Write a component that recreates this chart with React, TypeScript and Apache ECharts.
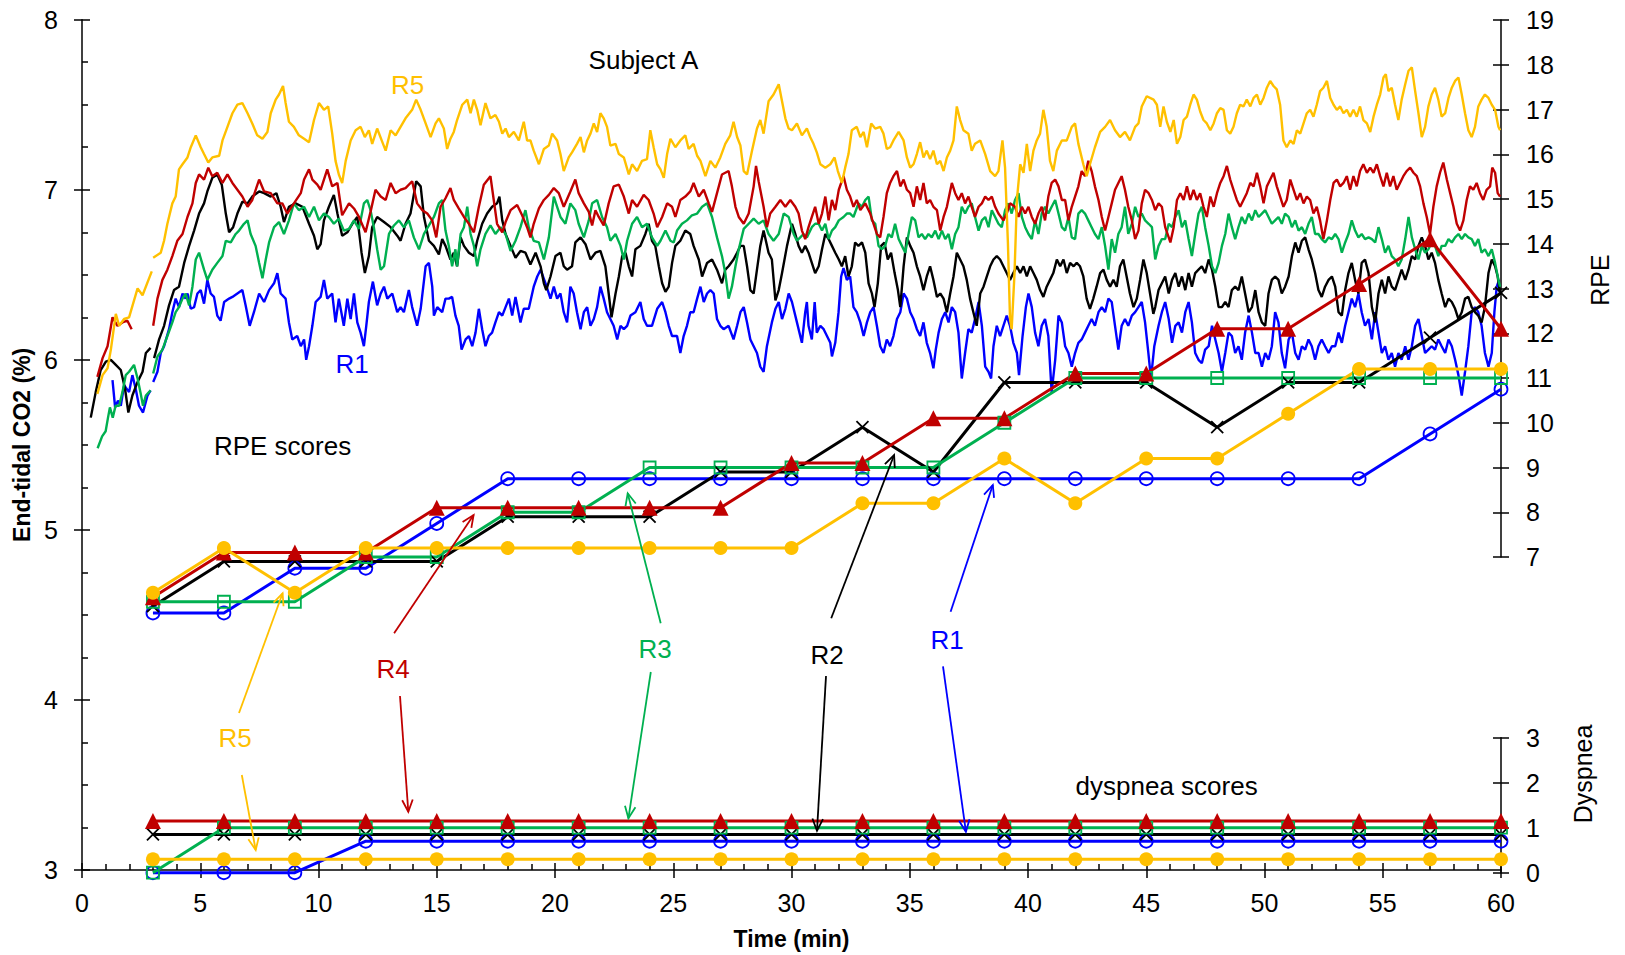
import React, { useEffect, useRef } from 'react';
import * as echarts from 'echarts';

const FONT = "'Liberation Sans', Arial, Helvetica, sans-serif";
const C_R1 = '#0000FF';
const C_R2 = '#000000';
const C_R3 = '#00B050';
const C_R4 = '#C00000';
const C_R5 = '#FFC000';

// ---- RPE scores (every 3 min) ----
const RPE_TIMES = [3, 6, 9, 12, 15, 18, 21, 24, 27, 30, 33, 36, 39, 42, 45, 48, 51, 54, 57, 60];
const RPE_R1 = [5.75, 5.75, 6.75, 6.75, 7.75, 8.75, 8.75, 8.75, 8.75, 8.75, 8.75, 8.75, 8.75, 8.75, 8.75, 8.75, 8.75, 8.75, 9.75, 10.75];
const RPE_R2 = [5.9, 6.9, 6.9, 6.9, 6.9, 7.9, 7.9, 7.9, 8.9, 8.9, 9.9, 8.9, 10.9, 10.9, 10.9, 9.9, 10.9, 10.9, 11.9, 12.9];
const RPE_R3 = [6, 6, 6, 7, 7, 8, 8, 9, 9, 9, 9, 9, 10, 11, 11, 11, 11, 11, 11, 11];
const RPE_R4 = [6.1, 7.1, 7.1, 7.1, 8.1, 8.1, 8.1, 8.1, 8.1, 9.1, 9.1, 10.1, 10.1, 11.1, 11.1, 12.1, 12.1, 13.1, 14.1, 12.1];
const RPE_R5 = [6.2, 7.2, 6.2, 7.2, 7.2, 7.2, 7.2, 7.2, 7.2, 7.2, 8.2, 8.2, 9.2, 8.2, 9.2, 9.2, 10.2, 11.2, 11.2, 11.2];

// ---- Dyspnea scores (every 3 min) ----
const DYS_R1 = [0, 0, 0, 0.7, 0.7, 0.7, 0.7, 0.7, 0.7, 0.7, 0.7, 0.7, 0.7, 0.7, 0.7, 0.7, 0.7, 0.7, 0.7, 0.7];
const DYS_R2 = [0.85, 0.85, 0.85, 0.85, 0.85, 0.85, 0.85, 0.85, 0.85, 0.85, 0.85, 0.85, 0.85, 0.85, 0.85, 0.85, 0.85, 0.85, 0.85, 0.85];
const DYS_R3 = [0, 1, 1, 1, 1, 1, 1, 1, 1, 1, 1, 1, 1, 1, 1, 1, 1, 1, 1, 1];
const DYS_R4 = [1.15, 1.15, 1.15, 1.15, 1.15, 1.15, 1.15, 1.15, 1.15, 1.15, 1.15, 1.15, 1.15, 1.15, 1.15, 1.15, 1.15, 1.15, 1.15, 1.15];
const DYS_R5 = [0.3, 0.3, 0.3, 0.3, 0.3, 0.3, 0.3, 0.3, 0.3, 0.3, 0.3, 0.3, 0.3, 0.3, 0.3, 0.3, 0.3, 0.3, 0.3, 0.3];

// ---- End-tidal CO2 traces: flat [time, value, ...]; NaN,NaN = data gap ----
const ETCO2_R1 = [
  1.29,5.88, 1.4,5.72, 1.52,5.76, 1.64,5.73, 1.78,5.85, 1.99,5.81, 2.13,5.91, 2.27,5.83, 2.41,5.73, 2.58,5.69, 2.77,5.79, 2.9,5.82,
  NaN,NaN,
  3.01,5.87, 3.19,5.93, 3.33,6.04, 3.47,6.08, 3.68,6.18, 3.82,6.28, 3.96,6.36, 4.1,6.31, 4.25,6.39, 4.38,6.36, 4.46,6.39, 4.6,6.30,
  4.74,6.31, 4.88,6.39, 5.02,6.41, 5.16,6.33, 5.3,6.47, 5.44,6.39, 5.58,6.37, 5.72,6.26, 5.86,6.23, 6.01,6.34, 6.22,6.36, 6.36,6.37,
  6.57,6.39, 6.78,6.41, 6.92,6.32, 7.09,6.20, 7.27,6.28, 7.49,6.39, 7.7,6.34, 7.91,6.41, 8.12,6.45, 8.26,6.51, 8.4,6.39, 8.61,6.36,
  8.75,6.22, 8.89,6.12, 9.1,6.14, 9.25,6.08, 9.39,6.12, 9.48,6.0, 9.6,6.08, 9.74,6.20, 9.88,6.34, 10.09,6.37, 10.23,6.47, 10.37,6.36,
  10.58,6.39, 10.72,6.22, 10.86,6.36, 11.07,6.20, 11.22,6.36, 11.36,6.24, 11.5,6.39, 11.64,6.22, 11.78,6.16, 11.92,6.08, 12.02,6.20,
  12.13,6.34, 12.3,6.46, 12.48,6.32, 12.63,6.39, 12.77,6.43, 12.91,6.36, 13.12,6.39, 13.33,6.28, 13.47,6.31, 13.61,6.28, 13.82,6.41,
  13.96,6.31, 14.17,6.20, 14.32,6.30, 14.53,6.55, 14.67,6.57, 14.81,6.43, 14.88,6.26, 15.02,6.31, 15.23,6.28, 15.37,6.36, 15.51,6.36,
  15.65,6.37, 15.79,6.26, 15.93,6.20, 16.05,6.06, 16.22,6.12, 16.36,6.14, 16.5,6.08, 16.64,6.16, 16.78,6.30, 16.92,6.18, 17.06,6.08,
  17.2,6.14, 17.34,6.16, 17.48,6.22, 17.63,6.28, 17.77,6.26, 17.91,6.31, 18.05,6.36, 18.19,6.26, 18.33,6.37, 18.54,6.22, 18.68,6.30,
  18.89,6.30, 19.1,6.43, 19.25,6.49, 19.39,6.53, 19.6,6.45, 19.81,6.36, 19.95,6.43, 20.09,6.36, 20.23,6.39, 20.37,6.28, 20.51,6.22,
  20.65,6.43, 20.79,6.39, 20.93,6.28, 21.08,6.18, 21.22,6.28, 21.36,6.31, 21.5,6.20, 21.64,6.24, 21.78,6.31, 21.92,6.43, 22.06,6.36,
  22.2,6.28, 22.34,6.24, 22.48,6.20, 22.63,6.12, 22.77,6.20, 22.91,6.18, 23.05,6.20, 23.19,6.26, 23.4,6.28, 23.61,6.34, 23.75,6.24,
  23.89,6.20, 24.1,6.20, 24.32,6.30, 24.53,6.34, 24.67,6.28, 24.81,6.20, 24.95,6.14, 25.16,6.14, 25.3,6.04, 25.44,6.14, 25.58,6.20,
  25.72,6.28, 25.86,6.28, 26.01,6.36, 26.15,6.43, 26.29,6.34, 26.43,6.39, 26.57,6.41, 26.71,6.39, 26.85,6.24, 26.99,6.20, 27.13,6.18,
  27.34,6.20, 27.55,6.12, 27.7,6.20, 27.84,6.28, 27.98,6.31, 28.12,6.22, 28.26,6.12, 28.4,6.08, 28.54,6.04, 28.68,5.96, 28.82,5.93,
  28.96,6.08, 29.17,6.22, 29.32,6.30, 29.46,6.34, 29.6,6.24, 29.74,6.30, 29.88,6.39, 30.02,6.34, 30.23,6.22, 30.44,6.10, 30.58,6.28,
  30.65,6.34, 30.72,6.20, 30.86,6.12, 30.98,6.34, 31.07,6.16, 31.22,6.20, 31.36,6.18, 31.5,6.14, 31.64,6.10, 31.71,6.02, 31.85,6.10,
  31.99,6.28, 32.1,6.49, 32.2,6.54, 32.34,6.47, 32.48,6.49, 32.62,6.31, 32.76,6.28, 32.91,6.22, 33.05,6.14, 33.19,6.22, 33.33,6.28,
  33.47,6.31, 33.61,6.20, 33.75,6.08, 33.89,6.04, 34.03,6.12, 34.17,6.08, 34.31,6.14, 34.46,6.24, 34.6,6.28, 34.74,6.39, 34.88,6.36,
  35.02,6.28, 35.16,6.24, 35.3,6.18, 35.44,6.14, 35.58,6.22, 35.72,6.10, 35.86,6.04, 36.0,5.95, 36.1,6.06, 36.22,6.16, 36.36,6.24,
  36.5,6.28, 36.64,6.22, 36.78,6.31, 36.92,6.28, 37.06,6.16, 37.2,5.89, 37.34,6.04, 37.48,6.18, 37.62,6.16, 37.76,6.24, 37.91,6.34,
  38.05,6.20, 38.19,5.96, 38.33,5.93, 38.44,5.89, 38.54,6.08, 38.68,6.20, 38.82,6.14, 38.96,6.20, 39.1,6.26, 39.24,6.20, 39.38,6.10,
  39.53,6.04, 39.62,5.91, 39.77,6.14, 39.91,6.31, 40.02,6.39, 40.16,6.31, 40.3,6.16, 40.44,6.08, 40.58,6.20, 40.72,6.24, 40.86,6.14,
  41.0,5.81, 41.15,6.0, 41.29,6.26, 41.43,6.22, 41.57,6.08, 41.71,6.04, 41.85,5.96, 41.99,6.04, 42.13,6.10, 42.27,6.12, 42.41,6.16,
  42.55,6.20, 42.69,6.24, 42.83,6.20, 42.98,6.28, 43.12,6.31, 43.26,6.28, 43.4,6.36, 43.54,6.34, 43.68,6.20, 43.82,6.06, 43.96,6.20,
  44.1,6.24, 44.24,6.20, 44.39,6.26, 44.53,6.28, 44.67,6.31, 44.81,6.34, 44.95,6.22, 45.09,6.04, 45.2,5.89, 45.34,6.08, 45.52,6.20,
  45.66,6.28, 45.8,6.34, 45.95,6.24, 46.09,6.10, 46.23,6.20, 46.37,6.22, 46.51,6.16, 46.65,6.28, 46.79,6.34, 46.93,6.22, 47.07,6.04,
  47.21,6.0, 47.35,5.98, 47.49,6.06, 47.64,6.08, 47.78,6.20, 47.92,6.12, 48.06,6.04, 48.2,5.93, 48.34,6.04, 48.48,6.16, 48.62,6.14,
  48.76,6.04, 48.9,6.08, 49.04,6.0, 49.18,6.16, 49.33,6.26, 49.47,6.16, 49.61,6.04, 49.75,6.04, 49.89,5.96, 50.03,6.04, 50.17,6.0,
  50.31,6.08, 50.45,6.28, 50.59,6.22, 50.73,6.04, 50.87,5.95, 51.02,6.12, 51.16,6.16, 51.3,6.04, 51.44,6.0, 51.58,6.08, 51.72,6.06,
  51.86,6.12, 52.0,6.08, 52.14,6.0, 52.28,6.08, 52.42,6.12, 52.56,6.08, 52.71,6.04, 52.85,6.08, 52.99,6.08, 53.13,6.16, 53.27,6.10,
  53.41,6.20, 53.55,6.28, 53.69,6.36, 53.83,6.31, 53.97,6.39, 54.11,6.28, 54.25,6.20, 54.4,6.24, 54.54,6.12, 54.68,6.28, 54.82,6.16,
  54.96,6.04, 55.1,6.08, 55.24,6.0, 55.38,6.04, 55.52,5.96, 55.66,6.04, 55.8,6.0, 55.95,6.08, 56.09,6.0, 56.23,6.08, 56.37,6.20,
  56.51,6.24, 56.65,6.14, 56.79,6.04, 56.93,6.06, 57.07,6.08, 57.21,6.06, 57.35,6.12, 57.49,6.08, 57.64,6.04, 57.78,6.12, 57.92,6.08,
  58.06,6.0, 58.2,5.91, 58.34,5.79, 58.48,5.93, 58.62,6.08, 58.76,6.28, 58.9,6.31, 59.04,6.28, 59.18,6.20, 59.32,6.04, 59.47,5.96,
  59.61,6.04, 59.72,6.28, 59.82,6.43, 59.92,6.47,
];

const ETCO2_R2 = [
  0.37,5.66, 0.58,5.81, 0.79,5.94, 1.01,5.99, 1.22,6.0, 1.43,5.97, 1.64,5.94, 1.82,5.83, 1.96,5.69, 2.13,5.79, 2.35,5.87, 2.56,5.93,
  2.7,6.04, 2.9,6.07,
  NaN,NaN,
  3.05,6.01, 3.26,6.12, 3.47,6.20, 3.68,6.32, 3.89,6.41, 4.1,6.43, 4.32,6.57, 4.53,6.67, 4.74,6.76, 4.95,6.86, 5.16,6.92, 5.3,6.99,
  5.51,7.07, 5.72,7.09, 5.91,7.03, 6.08,6.86, 6.22,6.75, 6.39,6.78, 6.57,6.86, 6.78,6.93, 7.0,6.92, 7.2,6.96, 7.49,6.99, 7.7,6.98,
  7.98,6.96, 8.22,6.98, 8.4,6.90, 8.54,6.81, 8.75,6.90, 9.03,6.92, 9.32,6.90, 9.6,6.80, 9.81,6.73, 9.95,6.65, 10.09,6.68, 10.23,6.82,
  10.44,6.90, 10.65,6.97, 10.8,6.86, 11.0,6.73, 11.22,6.75, 11.43,6.80, 11.64,6.84, 11.82,6.63, 11.96,6.51, 12.13,6.61, 12.27,6.78,
  12.48,6.84, 12.77,6.81, 13.05,6.78, 13.33,6.73, 13.47,6.70, 13.68,6.80, 13.89,6.86, 14.13,7.05, 14.32,7.02, 14.46,6.84, 14.67,6.70,
  14.88,6.67, 15.09,6.62, 15.23,6.71, 15.37,6.67, 15.58,6.59, 15.72,6.63, 15.86,6.55, 16.01,6.72, 16.15,6.67, 16.36,6.63, 16.57,6.61,
  16.71,6.70, 16.92,6.80, 17.13,6.86, 17.34,6.90, 17.55,6.92, 17.65,6.96, 17.77,6.82, 17.91,6.74, 18.12,6.67, 18.33,6.60, 18.54,6.64,
  18.75,6.63, 18.96,6.56, 19.18,6.63, 19.39,6.55, 19.53,6.45, 19.63,6.41, 19.81,6.49, 20.02,6.61, 20.23,6.63, 20.37,6.55, 20.51,6.53,
  20.72,6.55, 20.86,6.69, 21.08,6.72, 21.29,6.68, 21.5,6.59, 21.71,6.63, 21.92,6.64, 22.13,6.55, 22.27,6.39, 22.39,6.25, 22.56,6.39,
  22.7,6.49, 22.84,6.61, 22.98,6.63, 23.12,6.55, 23.26,6.49, 23.4,6.65, 23.61,6.67, 23.82,6.74, 23.96,6.80, 24.1,6.70, 24.24,6.67,
  24.39,6.55, 24.53,6.45, 24.67,6.40, 24.81,6.43, 24.95,6.57, 25.09,6.67, 25.3,6.70, 25.51,6.76, 25.72,6.74, 25.86,6.67, 26.08,6.59,
  26.22,6.49, 26.43,6.57, 26.64,6.59, 26.85,6.53, 27.06,6.45, 27.2,6.53, 27.34,6.55, 27.55,6.59, 27.7,6.63, 27.84,6.67, 27.98,6.67,
  28.12,6.55, 28.26,6.41, 28.4,6.39, 28.54,6.53, 28.68,6.67, 28.82,6.76, 29.03,6.63, 29.17,6.59, 29.32,6.35, 29.46,6.41, 29.6,6.51,
  29.81,6.67, 30.02,6.80, 30.16,6.74, 30.3,6.67, 30.44,6.63, 30.58,6.67, 30.72,6.63, 30.86,6.57, 31.0,6.51, 31.15,6.55, 31.29,6.65,
  31.43,6.74, 31.57,6.71, 31.71,6.67, 31.85,6.63, 32.0,6.59, 32.13,6.55, 32.27,6.61, 32.41,6.49, 32.55,6.55, 32.69,6.69, 32.83,6.67,
  32.98,6.69, 33.12,6.63, 33.26,6.45, 33.4,6.39, 33.51,6.31, 33.65,6.45, 33.79,6.67, 33.93,6.69, 34.07,6.59, 34.21,6.63, 34.36,6.51,
  34.5,6.41, 34.6,6.31, 34.74,6.55, 34.88,6.72, 35.02,6.67, 35.16,6.63, 35.3,6.55, 35.44,6.49, 35.58,6.41, 35.72,6.49, 35.86,6.55,
  36.0,6.47, 36.15,6.37, 36.29,6.39, 36.43,6.36, 36.57,6.28, 36.71,6.39, 36.85,6.49, 36.99,6.63, 37.13,6.59, 37.27,6.55, 37.41,6.47,
  37.55,6.36, 37.69,6.28, 37.83,6.20, 37.98,6.39, 38.12,6.43, 38.26,6.49, 38.4,6.55, 38.54,6.59, 38.68,6.61, 38.82,6.59, 38.96,6.55,
  39.1,6.51, 39.24,6.47, 39.38,6.51, 39.53,6.55, 39.67,6.51, 39.81,6.55, 39.95,6.49, 40.09,6.55, 40.23,6.51, 40.37,6.47, 40.51,6.41,
  40.65,6.37, 40.79,6.43, 40.93,6.47, 41.07,6.51, 41.22,6.59, 41.36,6.55, 41.5,6.59, 41.64,6.51, 41.78,6.57, 41.93,6.55, 42.06,6.57,
  42.2,6.55, 42.34,6.49, 42.48,6.36, 42.62,6.30, 42.76,6.36, 42.9,6.43, 43.05,6.51, 43.19,6.53, 43.33,6.47, 43.47,6.43, 43.61,6.47,
  43.75,6.43, 43.89,6.55, 44.03,6.59, 44.17,6.49, 44.31,6.39, 44.46,6.31, 44.6,6.36, 44.74,6.47, 44.88,6.59, 45.02,6.51, 45.16,6.39,
  45.3,6.27, 45.38,6.31, 45.52,6.41, 45.66,6.45, 45.8,6.49, 45.95,6.39, 46.09,6.47, 46.23,6.51, 46.37,6.43, 46.51,6.49, 46.65,6.41,
  46.79,6.51, 46.93,6.43, 47.07,6.51, 47.21,6.53, 47.35,6.55, 47.49,6.51, 47.64,6.59, 47.78,6.53, 47.92,6.43, 48.06,6.31, 48.2,6.31,
  48.34,6.34, 48.48,6.31, 48.62,6.41, 48.76,6.43, 48.9,6.41, 49.04,6.49, 49.18,6.39, 49.33,6.28, 49.47,6.31, 49.61,6.41, 49.75,6.28,
  49.89,6.22, 50.03,6.20, 50.17,6.39, 50.31,6.47, 50.45,6.49, 50.59,6.47, 50.73,6.39, 50.87,6.43, 51.02,6.49, 51.16,6.61, 51.3,6.69,
  51.44,6.63, 51.58,6.70, 51.72,6.72, 51.86,6.65, 52.0,6.59, 52.14,6.51, 52.28,6.41, 52.42,6.37, 52.56,6.43, 52.71,6.47, 52.85,6.49,
  52.99,6.43, 53.13,6.28, 53.27,6.26, 53.41,6.41, 53.55,6.51, 53.69,6.57, 53.83,6.47, 53.97,6.39, 54.11,6.57, 54.25,6.59, 54.4,6.51,
  54.54,6.31, 54.68,6.22, 54.82,6.39, 54.96,6.47, 55.1,6.39, 55.24,6.49, 55.38,6.43, 55.52,6.41, 55.66,6.47, 55.8,6.53, 55.95,6.47,
  56.09,6.53, 56.23,6.61, 56.37,6.59, 56.51,6.67, 56.65,6.72, 56.79,6.67, 56.93,6.59, 57.07,6.63, 57.21,6.57, 57.35,6.47, 57.49,6.39,
  57.64,6.31, 57.78,6.36, 57.92,6.34, 58.06,6.30, 58.2,6.24, 58.34,6.28, 58.48,6.36, 58.62,6.37, 58.76,6.31, 58.9,6.28, 59.04,6.26,
  59.18,6.22, 59.32,6.31, 59.47,6.51, 59.61,6.59, 59.75,6.55, 59.86,6.49, 59.96,6.39,
];

const ETCO2_R3 = [
  0.66,5.48, 0.85,5.55, 1.0,5.58, 1.1,5.66, 1.18,5.72, 1.3,5.66, 1.42,5.73, 1.57,5.73, 1.71,5.81, 1.85,5.91, 1.99,5.93, 2.2,5.97,
  2.35,5.89, 2.47,5.81, 2.58,5.73, 2.7,5.79, 2.9,5.82,
  NaN,NaN,
  3.01,5.92, 3.19,6.02, 3.4,6.06, 3.61,6.14, 3.82,6.22, 3.96,6.28, 4.1,6.31, 4.25,6.36, 4.38,6.39, 4.53,6.32, 4.67,6.43, 4.81,6.59,
  4.95,6.63, 5.16,6.53, 5.3,6.47, 5.51,6.53, 5.72,6.57, 5.94,6.61, 6.08,6.70, 6.29,6.69, 6.5,6.74, 6.64,6.76, 6.85,6.80, 7.0,6.82,
  7.13,6.74, 7.34,6.67, 7.49,6.57, 7.63,6.48, 7.77,6.59, 7.91,6.69, 8.12,6.78, 8.33,6.81, 8.54,6.74, 8.75,6.82, 8.96,6.92, 9.17,6.88,
  9.39,6.90, 9.6,6.84, 9.81,6.90, 10.02,6.82, 10.23,6.86, 10.44,6.84, 10.65,6.80, 10.86,6.83, 11.07,6.76, 11.29,6.77, 11.5,6.82,
  11.71,6.77, 11.92,6.92, 12.06,6.94, 12.2,6.88, 12.34,6.78, 12.48,6.65, 12.63,6.53, 12.77,6.55, 12.98,6.74, 13.19,6.79, 13.4,6.82,
  13.61,6.78, 13.82,6.82, 14.03,6.72, 14.25,6.65, 14.46,6.74, 14.67,6.79, 14.88,6.84, 15.09,6.92, 15.23,6.94, 15.37,6.76, 15.51,6.67,
  15.65,6.55, 15.79,6.65, 15.86,6.55, 16.01,6.74, 16.15,6.78, 16.29,6.90, 16.43,6.74, 16.57,6.67, 16.71,6.55, 16.85,6.65, 17.06,6.74,
  17.27,6.79, 17.48,6.74, 17.7,6.78, 17.91,6.74, 18.12,6.64, 18.33,6.70, 18.54,6.78, 18.75,6.88, 18.89,6.78, 19.1,6.70, 19.32,6.69,
  19.53,6.59, 19.74,6.72, 19.95,6.96, 20.09,6.90, 20.23,6.84, 20.44,6.80, 20.65,6.92, 20.86,6.88, 21.0,6.80, 21.22,6.72, 21.43,6.82,
  21.57,6.92, 21.78,6.94, 21.99,6.84, 22.2,6.78, 22.34,6.70, 22.56,6.74, 22.77,6.67, 22.91,6.59, 23.05,6.70, 23.26,6.80, 23.47,6.84,
  23.68,6.78, 23.89,6.80, 24.1,6.72, 24.32,6.67, 24.46,6.70, 24.67,6.76, 24.88,6.70, 25.02,6.69, 25.16,6.76, 25.37,6.80, 25.58,6.82,
  25.79,6.85, 26.01,6.86, 26.22,6.90, 26.43,6.92, 26.64,6.84, 26.85,6.72, 27.06,6.61, 27.2,6.51, 27.34,6.36, 27.48,6.43, 27.63,6.55,
  27.77,6.65, 27.98,6.77, 28.19,6.80, 28.4,6.83, 28.61,6.80, 28.82,6.82, 29.03,6.74, 29.24,6.70, 29.46,6.74, 29.67,6.86, 29.88,6.84,
  30.09,6.74, 30.23,6.70, 30.37,6.72, 30.51,6.74, 30.65,6.72, 30.86,6.78, 31.0,6.80, 31.15,6.80, 31.29,6.76, 31.43,6.80, 31.57,6.71,
  31.71,6.76, 31.85,6.78, 32.0,6.82, 32.2,6.84, 32.34,6.86, 32.48,6.86, 32.62,6.84, 32.83,6.92, 32.98,6.90, 33.12,6.94, 33.26,6.96,
  33.4,6.82, 33.54,6.80, 33.68,6.67, 33.82,6.65, 33.96,6.67, 34.1,6.74, 34.24,6.72, 34.38,6.80, 34.53,6.71, 34.67,6.67, 34.81,6.63,
  34.95,6.74, 35.09,6.84, 35.23,6.82, 35.37,6.72, 35.51,6.74, 35.65,6.71, 35.79,6.74, 35.93,6.72, 36.08,6.76, 36.22,6.71, 36.36,6.76,
  36.5,6.71, 36.64,6.74, 36.78,6.65, 36.92,6.74, 37.06,6.78, 37.2,6.90, 37.34,6.86, 37.48,6.90, 37.62,6.92, 37.76,6.84, 37.91,6.76,
  38.05,6.82, 38.19,6.84, 38.33,6.78, 38.47,6.88, 38.61,6.84, 38.75,6.80, 38.89,6.78, 39.03,6.88, 39.17,6.92, 39.31,6.86, 39.45,6.94,
  39.6,6.98, 39.74,6.84, 39.88,6.78, 40.02,6.74, 40.16,6.71, 40.3,6.82, 40.44,6.74, 40.58,6.86, 40.72,6.90, 40.86,6.86, 41.0,6.90,
  41.15,6.94, 41.29,6.86, 41.43,6.78, 41.57,6.76, 41.71,6.84, 41.85,6.72, 41.99,6.71, 42.13,6.86, 42.27,6.88, 42.41,6.86, 42.55,6.82,
  42.69,6.78, 42.83,6.74, 42.98,6.71, 43.12,6.78, 43.26,6.67, 43.4,6.53, 43.54,6.71, 43.68,6.63, 43.82,6.74, 43.96,6.78, 44.1,6.90,
  44.24,6.74, 44.39,6.80, 44.53,6.90, 44.67,6.84, 44.81,6.86, 44.95,6.82, 45.1,6.80, 45.24,6.78, 45.38,6.59, 45.52,6.67, 45.66,6.71,
  45.8,6.71, 45.95,6.80, 46.09,6.78, 46.23,6.84, 46.37,6.88, 46.51,6.78, 46.65,6.82, 46.79,6.71, 46.93,6.61, 47.07,6.74, 47.21,6.86,
  47.35,6.90, 47.49,6.78, 47.64,6.67, 47.78,6.55, 47.92,6.51, 48.06,6.57, 48.2,6.67, 48.34,6.74, 48.48,6.86, 48.62,6.78, 48.76,6.71,
  48.9,6.78, 49.04,6.84, 49.18,6.80, 49.33,6.86, 49.47,6.82, 49.61,6.88, 49.75,6.84, 49.89,6.86, 50.03,6.88, 50.17,6.84, 50.31,6.80,
  50.45,6.82, 50.59,6.84, 50.73,6.80, 50.87,6.86, 51.02,6.84, 51.16,6.78, 51.3,6.82, 51.44,6.76, 51.58,6.78, 51.72,6.74, 51.86,6.80,
  52.0,6.84, 52.14,6.74, 52.28,6.74, 52.42,6.71, 52.56,6.69, 52.71,6.72, 52.85,6.71, 52.99,6.74, 53.13,6.71, 53.27,6.63, 53.41,6.69,
  53.55,6.74, 53.69,6.82, 53.83,6.76, 53.97,6.72, 54.11,6.74, 54.25,6.71, 54.4,6.72, 54.54,6.71, 54.68,6.69, 54.82,6.78, 54.96,6.71,
  55.1,6.63, 55.24,6.67, 55.38,6.61, 55.52,6.59, 55.66,6.55, 55.8,6.59, 55.95,6.71, 56.09,6.84, 56.23,6.72, 56.37,6.65, 56.51,6.59,
  56.65,6.67, 56.79,6.63, 56.93,6.65, 57.07,6.69, 57.21,6.67, 57.35,6.61, 57.49,6.67, 57.64,6.67, 57.78,6.71, 57.92,6.69, 58.06,6.72,
  58.2,6.74, 58.34,6.71, 58.48,6.74, 58.62,6.72, 58.76,6.71, 58.9,6.67, 59.04,6.71, 59.18,6.63, 59.32,6.65, 59.47,6.61, 59.61,6.65,
  59.75,6.57, 59.89,6.47, 59.96,6.43,
];

const ETCO2_R4 = [
  0.65,5.90, 0.87,6.01, 1.08,6.08, 1.29,6.25, 1.5,6.20, 1.71,6.22, 1.92,6.23, 2.1,6.18,
  NaN,NaN,
  3.01,6.20, 3.19,6.36, 3.4,6.47, 3.61,6.53, 3.82,6.61, 4.03,6.70, 4.25,6.74, 4.46,6.84, 4.67,6.92, 4.81,7.04, 4.95,7.09, 5.16,7.06,
  5.34,7.13, 5.51,7.08, 5.72,7.10, 5.94,7.04, 6.15,7.09, 6.36,7.04, 6.57,7.0, 6.78,6.96, 7.0,6.90, 7.2,6.94, 7.49,7.06, 7.7,6.99,
  7.98,6.98, 8.26,6.92, 8.47,6.92, 8.68,6.86, 8.96,6.92, 9.25,6.98, 9.39,7.06, 9.6,7.12, 9.74,7.06, 9.95,7.03, 10.09,7.0, 10.37,7.12,
  10.58,7.02, 10.8,7.04, 11.0,6.85, 11.29,6.92, 11.5,6.89, 11.71,6.84, 11.99,6.75, 12.2,6.87, 12.41,7.0, 12.63,6.96, 12.84,6.94,
  13.05,7.04, 13.26,6.98, 13.47,7.0, 13.68,7.01, 13.96,7.05, 14.17,6.92, 14.39,6.88, 14.6,6.86, 14.81,6.82, 14.98,6.72, 15.16,6.90,
  15.37,6.95, 15.58,7.01, 15.72,6.94, 15.93,6.89, 16.15,6.84, 16.36,6.80, 16.57,6.75, 16.78,6.90, 16.99,7.03, 17.27,7.08, 17.41,6.94,
  17.55,6.80, 17.77,6.75, 17.91,6.81, 18.12,6.88, 18.4,6.91, 18.61,6.85, 18.82,6.78, 18.96,6.72, 19.1,6.80, 19.32,6.89, 19.53,6.94,
  19.74,6.97, 19.95,7.01, 20.16,6.98, 20.37,6.90, 20.65,6.99, 20.86,7.06, 21.0,6.98, 21.22,6.92, 21.43,6.87, 21.57,6.79, 21.71,6.88,
  21.85,6.84, 22.06,6.79, 22.27,6.92, 22.48,7.02, 22.7,7.03, 22.91,6.96, 23.12,6.86, 23.26,6.94, 23.47,6.90, 23.75,6.97, 23.96,6.94,
  24.17,6.86, 24.32,6.78, 24.53,6.84, 24.74,6.92, 24.95,6.90, 25.09,6.84, 25.3,6.94, 25.51,6.96, 25.72,6.99, 25.86,7.04, 26.08,6.96,
  26.29,7.0, 26.5,6.92, 26.64,6.87, 26.85,6.98, 27.06,7.09, 27.2,7.10, 27.34,7.11, 27.48,7.02, 27.63,6.90, 27.77,6.84, 27.98,6.80,
  28.19,6.86, 28.4,7.02, 28.5,7.14, 28.61,7.05, 28.82,6.90, 28.96,6.78, 29.1,6.86, 29.32,6.90, 29.53,6.94, 29.74,6.90, 29.95,6.94,
  30.16,6.90, 30.3,6.86, 30.44,6.76, 30.58,6.71, 30.72,6.78, 30.86,6.84, 31.0,6.90, 31.15,6.80, 31.29,6.86, 31.43,6.96, 31.57,6.82,
  31.71,6.94, 31.85,6.88, 32.0,7.0, 32.2,7.08, 32.34,7.0, 32.48,6.96, 32.62,6.90, 32.76,6.94, 32.91,6.88, 33.12,6.92, 33.33,6.86,
  33.47,6.80, 33.61,6.74, 33.75,6.72, 33.89,6.84, 34.03,6.98, 34.17,7.04, 34.31,7.08, 34.46,7.11, 34.6,7.02, 34.74,7.06, 34.88,7.0,
  35.02,6.98, 35.16,6.90, 35.3,7.02, 35.44,6.94, 35.58,7.04, 35.72,6.92, 35.86,6.94, 36.0,6.90, 36.15,6.88, 36.29,6.76, 36.43,6.84,
  36.57,6.90, 36.78,7.04, 36.92,6.98, 37.06,6.94, 37.2,6.98, 37.34,6.92, 37.48,6.96, 37.62,6.90, 37.76,6.84, 37.91,6.90, 38.05,6.92,
  38.19,6.96, 38.33,6.94, 38.47,6.96, 38.61,6.90, 38.75,6.86, 38.96,6.82, 39.1,6.86, 39.24,6.92, 39.45,6.90, 39.6,6.84, 39.74,6.90,
  39.88,6.86, 40.02,6.90, 40.16,6.84, 40.3,6.80, 40.44,6.86, 40.58,6.90, 40.72,6.82, 40.86,6.96, 41.0,7.04, 41.15,7.06, 41.29,7.02,
  41.43,6.94, 41.57,6.94, 41.71,6.82, 41.85,6.90, 41.99,6.96, 42.13,7.02, 42.27,7.11, 42.41,7.08, 42.55,7.17, 42.69,7.11, 42.83,7.02,
  42.98,6.94, 43.12,6.84, 43.26,6.76, 43.4,6.84, 43.54,6.92, 43.68,7.0, 43.82,7.04, 43.96,7.08, 44.1,7.0, 44.24,6.90, 44.39,6.82,
  44.53,6.71, 44.67,6.76, 44.81,6.92, 44.95,7.0, 45.1,6.98, 45.24,6.94, 45.38,6.88, 45.52,6.92, 45.66,6.90, 45.8,6.78, 45.95,6.72,
  46.02,6.69, 46.16,6.78, 46.3,6.94, 46.44,6.98, 46.58,6.94, 46.72,7.02, 46.86,6.94, 47.0,7.0, 47.14,6.94, 47.28,6.98, 47.42,6.90,
  47.56,6.84, 47.71,6.96, 47.85,6.90, 47.99,6.98, 48.13,7.04, 48.27,7.08, 48.41,7.14, 48.55,7.06, 48.69,7.0, 48.83,6.94, 48.97,6.90,
  49.11,6.94, 49.25,6.98, 49.4,7.04, 49.54,7.02, 49.68,7.10, 49.82,7.02, 49.96,6.92, 50.1,7.02, 50.24,7.06, 50.38,7.10, 50.52,7.02,
  50.66,6.96, 50.8,6.90, 50.94,6.94, 51.09,7.06, 51.23,7.0, 51.37,6.94, 51.51,6.98, 51.65,6.92, 51.79,6.96, 51.93,6.94, 52.07,6.86,
  52.21,6.90, 52.35,6.82, 52.49,6.71, 52.64,6.82, 52.78,6.94, 52.92,7.04, 53.06,7.06, 53.2,7.02, 53.34,7.04, 53.48,7.08, 53.62,7.0,
  53.76,7.08, 53.9,7.02, 54.04,7.11, 54.18,7.15, 54.33,7.10, 54.47,7.13, 54.61,7.10, 54.75,7.15, 54.89,7.08, 55.03,7.02, 55.17,7.10,
  55.31,7.02, 55.45,7.08, 55.59,7.0, 55.73,7.04, 55.87,7.08, 56.01,7.11, 56.16,7.13, 56.3,7.10, 56.44,7.08, 56.58,7.02, 56.72,6.92,
  56.86,6.84, 57.0,6.74, 57.14,6.90, 57.28,7.02, 57.42,7.10, 57.56,7.16, 57.71,7.06, 57.85,6.98, 57.99,6.90, 58.13,6.80, 58.27,6.76,
  58.41,6.82, 58.55,6.94, 58.69,7.02, 58.83,7.0, 58.97,7.04, 59.11,6.98, 59.25,6.94, 59.39,7.0, 59.54,7.02, 59.63,7.13, 59.75,7.10,
  59.86,6.98, 59.96,6.96,
];

const ETCO2_R5 = [
  0.65,5.80, 0.87,5.91, 1.08,5.95, 1.22,6.06, 1.43,6.27, 1.57,6.20, 1.78,6.24, 1.99,6.25, 2.35,6.42, 2.56,6.38, 2.95,6.52,
  NaN,NaN,
  3.01,6.60, 3.33,6.63, 3.47,6.70, 3.61,6.80, 3.82,6.92, 3.96,6.96, 4.1,7.12, 4.25,7.15, 4.46,7.19, 4.6,7.25, 4.81,7.32, 5.02,7.25,
  5.16,7.21, 5.34,7.16, 5.51,7.19, 5.8,7.20, 5.94,7.29, 6.15,7.37, 6.36,7.45, 6.57,7.50, 6.78,7.51, 7.0,7.45, 7.2,7.39, 7.41,7.32,
  7.63,7.30, 7.84,7.34, 7.98,7.45, 8.19,7.53, 8.33,7.56, 8.5,7.61, 8.61,7.51, 8.75,7.40, 8.96,7.37, 9.17,7.32, 9.39,7.30, 9.6,7.28,
  9.81,7.41, 10.02,7.51, 10.23,7.47, 10.41,7.49, 10.58,7.33, 10.72,7.17, 10.86,7.09, 11.0,7.04, 11.15,7.17, 11.36,7.29, 11.57,7.35,
  11.78,7.37, 11.96,7.31, 12.13,7.35, 12.27,7.27, 12.48,7.36, 12.7,7.28, 12.84,7.23, 13.05,7.35, 13.26,7.32, 13.47,7.37, 13.68,7.42,
  13.96,7.47, 14.13,7.53, 14.32,7.47, 14.53,7.39, 14.74,7.31, 14.95,7.39, 15.09,7.42, 15.3,7.36, 15.44,7.24, 15.58,7.30, 15.72,7.34,
  15.86,7.41, 16.08,7.50, 16.29,7.53, 16.43,7.45, 16.57,7.53, 16.71,7.47, 16.85,7.38, 17.06,7.51, 17.27,7.42, 17.48,7.44, 17.63,7.40,
  17.77,7.33, 17.91,7.36, 18.05,7.31, 18.26,7.34, 18.47,7.29, 18.68,7.40, 18.82,7.29, 18.96,7.29, 19.1,7.23, 19.32,7.15, 19.53,7.24,
  19.74,7.26, 19.88,7.33, 20.09,7.29, 20.23,7.21, 20.37,7.11, 20.58,7.19, 20.72,7.22, 20.93,7.27, 21.08,7.31, 21.22,7.22, 21.36,7.29,
  21.5,7.33, 21.64,7.39, 21.78,7.34, 21.92,7.45, 22.06,7.42, 22.2,7.37, 22.34,7.26, 22.56,7.27, 22.7,7.21, 22.91,7.19, 23.12,7.09,
  23.26,7.15, 23.47,7.11, 23.68,7.17, 23.89,7.18, 24.03,7.35, 24.17,7.25, 24.32,7.15, 24.46,7.12, 24.6,7.07, 24.74,7.21, 24.88,7.30,
  25.09,7.25, 25.3,7.29, 25.51,7.32, 25.65,7.24, 25.86,7.27, 26.01,7.20, 26.15,7.17, 26.36,7.08, 26.57,7.17, 26.78,7.13, 26.99,7.19,
  27.2,7.27, 27.41,7.32, 27.55,7.40, 27.7,7.31, 27.84,7.26, 27.98,7.11, 28.12,7.09, 28.33,7.23, 28.54,7.36, 28.68,7.41, 28.82,7.33,
  29.03,7.52, 29.24,7.56, 29.46,7.62, 29.6,7.52, 29.74,7.42, 29.88,7.36, 30.02,7.35, 30.23,7.39, 30.44,7.32, 30.65,7.36, 30.79,7.31,
  30.93,7.27, 31.07,7.22, 31.22,7.15, 31.43,7.13, 31.64,7.15, 31.82,7.19, 31.96,7.11, 32.13,7.04, 32.27,7.13, 32.41,7.21, 32.55,7.35,
  32.76,7.37, 32.91,7.31, 33.05,7.34, 33.19,7.25, 33.37,7.39, 33.54,7.36, 33.75,7.37, 33.89,7.33, 34.03,7.24, 34.17,7.25, 34.31,7.29,
  34.53,7.34, 34.74,7.29, 34.88,7.19, 35.02,7.13, 35.16,7.15, 35.3,7.21, 35.44,7.28, 35.58,7.19, 35.72,7.23, 35.86,7.18, 36.0,7.23,
  36.15,7.15, 36.29,7.17, 36.43,7.11, 36.57,7.19, 36.71,7.23, 36.85,7.29, 36.99,7.49, 37.13,7.41, 37.27,7.35, 37.48,7.33, 37.62,7.23,
  37.76,7.27, 37.98,7.29, 38.19,7.21, 38.4,7.11, 38.61,7.08, 38.75,7.11, 38.92,7.29, 39.03,7.13, 39.15,6.69, 39.24,6.24, 39.31,6.18,
  39.43,6.51, 39.53,6.94, 39.67,7.15, 39.81,7.10, 39.95,7.27, 40.09,7.11, 40.23,7.23, 40.37,7.29, 40.51,7.33, 40.65,7.47, 40.79,7.37,
  40.93,7.17, 41.07,7.11, 41.22,7.23, 41.43,7.29, 41.64,7.29, 41.85,7.37, 41.99,7.39, 42.13,7.27, 42.34,7.15, 42.48,7.08, 42.62,7.15,
  42.83,7.25, 43.05,7.34, 43.26,7.37, 43.47,7.41, 43.68,7.35, 43.89,7.31, 44.1,7.34, 44.31,7.29, 44.53,7.37, 44.67,7.39, 44.81,7.49,
  45.02,7.55, 45.31,7.53, 45.45,7.50, 45.59,7.37, 45.73,7.49, 45.87,7.40, 46.02,7.34, 46.16,7.41, 46.3,7.27, 46.44,7.31, 46.58,7.41,
  46.72,7.43, 46.86,7.50, 47.0,7.56, 47.14,7.53, 47.28,7.46, 47.42,7.41, 47.56,7.39, 47.71,7.35, 47.85,7.39, 47.99,7.45, 48.13,7.48,
  48.27,7.47, 48.41,7.35, 48.55,7.33, 48.69,7.37, 48.83,7.45, 48.97,7.50, 49.11,7.49, 49.25,7.53, 49.4,7.49, 49.54,7.54, 49.68,7.56,
  49.82,7.50, 49.96,7.54, 50.1,7.60, 50.24,7.64, 50.38,7.61, 50.52,7.59, 50.66,7.50, 50.8,7.29, 50.94,7.25, 51.09,7.29, 51.23,7.27,
  51.37,7.35, 51.51,7.33, 51.65,7.39, 51.79,7.45, 51.93,7.47, 52.07,7.43, 52.21,7.50, 52.35,7.58, 52.49,7.60, 52.64,7.64, 52.78,7.54,
  52.92,7.50, 53.06,7.47, 53.2,7.49, 53.34,7.45, 53.48,7.47, 53.62,7.43, 53.76,7.47, 53.9,7.43, 54.04,7.49, 54.18,7.41, 54.33,7.39,
  54.47,7.34, 54.61,7.43, 54.75,7.50, 54.89,7.56, 55.03,7.66, 55.13,7.68, 55.24,7.58, 55.38,7.60, 55.52,7.50, 55.66,7.41, 55.8,7.53,
  55.95,7.62, 56.09,7.70, 56.23,7.72, 56.37,7.58, 56.51,7.45, 56.65,7.31, 56.79,7.37, 56.93,7.49, 57.07,7.56, 57.21,7.60, 57.35,7.53,
  57.49,7.43, 57.64,7.45, 57.78,7.54, 57.92,7.60, 58.06,7.64, 58.2,7.66, 58.34,7.56, 58.48,7.45, 58.62,7.35, 58.76,7.31, 58.9,7.37,
  59.04,7.49, 59.18,7.53, 59.32,7.56, 59.47,7.54, 59.61,7.50, 59.75,7.47, 59.89,7.37, 59.96,7.35,
];

// ---- annotation layout (page pixels) ----
const NOTES = [
  { text: 'Subject A', x: 643.5, y: 60, color: '#000' },
  { text: 'R5', x: 407.5, y: 84.5, color: C_R5 },
  { text: 'R1', x: 352, y: 364, color: C_R1 },
  { text: 'RPE scores', x: 282.5, y: 445.6, color: '#000' },
  { text: 'dyspnea scores', x: 1166.6, y: 786, color: '#000' },
  { text: 'R5', x: 235, y: 738, color: C_R5 },
  { text: 'R4', x: 393, y: 669, color: C_R4 },
  { text: 'R3', x: 655, y: 649, color: C_R3 },
  { text: 'R2', x: 827, y: 655, color: '#000' },
  { text: 'R1', x: 947, y: 640, color: C_R1 },
];
const ARROWS = [
  { from: [239, 713], to: [282.6, 593.3], color: C_R5 },
  { from: [394.1, 633.3], to: [473.6, 515], color: C_R4 },
  { from: [660.7, 623.3], to: [627.7, 493.3], color: C_R3 },
  { from: [831.2, 618.3], to: [894.1, 455], color: C_R2 },
  { from: [950.6, 611.7], to: [992.8, 485], color: C_R1 },
  { from: [241.8, 775], to: [255.7, 850], color: C_R5 },
  { from: [400, 696], to: [408.3, 811.7], color: C_R4 },
  { from: [650.8, 672], to: [628.4, 818.3], color: C_R3 },
  { from: [826, 676], to: [817, 830.7], color: C_R2 },
  { from: [943, 666.4], to: [965.9, 831.7], color: C_R1 },
];

function toPairs(flat: number[]) {
  const out: any[] = [];
  for (let i = 0; i < flat.length; i += 2) {
    const t = flat[i];
    const v = flat[i + 1];
    if (Number.isNaN(t) || Number.isNaN(v)) out.push(['-', '-']);
    else out.push([t, v]);
  }
  return out;
}
function zipTimes(vals: number[]) {
  return RPE_TIMES.map((t, i) => [t, vals[i]]);
}

function arrowGraphic(a: any) {
  const [x1, y1] = a.from;
  const [x2, y2] = a.to;
  const dx = x2 - x1;
  const dy = y2 - y1;
  const len = Math.hypot(dx, dy);
  const ux = dx / len;
  const uy = dy / len;
  const L = 13;
  const ang = Math.PI / 7.5;
  const c = Math.cos(ang);
  const s = Math.sin(ang);
  const w1 = [x2 - L * (ux * c - uy * s), y2 - L * (uy * c + ux * s)];
  const w2 = [x2 - L * (ux * c + uy * s), y2 - L * (uy * c - ux * s)];
  return [
    { type: 'line', silent: true, z: 50, shape: { x1, y1, x2, y2 }, style: { stroke: a.color, lineWidth: 1.8 } },
    { type: 'polyline', silent: true, z: 50, shape: { points: [w1, [x2, y2], w2] }, style: { stroke: a.color, lineWidth: 1.8, fill: null } },
  ];
}

const BLACK = '#000';
const tickStyle = { color: BLACK, width: 1.5 };
const NOFILL = 'rgba(0,0,0,0)';

function valueAxisBase(extra: any) {
  return {
    type: 'value',
    splitLine: { show: false },
    minorSplitLine: { show: false },
    ...extra,
  };
}

export default function App() {
  const ref = useRef<HTMLDivElement>(null);

  useEffect(() => {
    if (!ref.current) return;
    const chart = echarts.init(ref.current, undefined, { renderer: 'svg' });

    const traceSeries = [
      ['R1', ETCO2_R1, C_R1],
      ['R2', ETCO2_R2, C_R2],
      ['R3', ETCO2_R3, C_R3],
      ['R4', ETCO2_R4, C_R4],
      ['R5', ETCO2_R5, C_R5],
    ].map(([name, arr, color]: any) => ({
      type: 'line',
      name: name + ' end-tidal CO2',
      xAxisIndex: 0,
      yAxisIndex: 0,
      data: toPairs(arr),
      showSymbol: false,
      symbol: 'none',
      connectNulls: false,
      clip: false,
      silent: true,
      z: 2,
      lineStyle: { color, width: 2.4 },
      itemStyle: { color },
    }));

    const markerDefs: any = {
      R1: { symbol: 'circle', symbolSize: 13, itemStyle: { color: NOFILL, borderColor: C_R1, borderWidth: 1.8 } },
      R2: { symbol: 'path://M0,0L10,10M10,0L0,10', symbolSize: 12, itemStyle: { color: C_R2, borderColor: C_R2, borderWidth: 1.8 } },
      R3: { symbol: 'rect', symbolSize: 12, itemStyle: { color: NOFILL, borderColor: C_R3, borderWidth: 1.8 } },
      R4: { symbol: 'triangle', symbolSize: 16, itemStyle: { color: C_R4 } },
      R5: { symbol: 'circle', symbolSize: 14, itemStyle: { color: C_R5 } },
    };
    const colorOf: any = { R1: C_R1, R2: C_R2, R3: C_R3, R4: C_R4, R5: C_R5 };

    const rpeSeries = [
      ['R1', RPE_R1], ['R2', RPE_R2], ['R3', RPE_R3], ['R4', RPE_R4], ['R5', RPE_R5],
    ].map(([name, vals]: any) => ({
      type: 'line',
      name: name + ' RPE',
      xAxisIndex: 2,
      yAxisIndex: 2,
      data: zipTimes(vals),
      showSymbol: true,
      clip: false,
      silent: true,
      z: 4,
      lineStyle: { color: colorOf[name], width: 3 },
      ...markerDefs[name],
    }));

    const dysSeries = [
      ['R1', DYS_R1], ['R2', DYS_R2], ['R3', DYS_R3], ['R4', DYS_R4], ['R5', DYS_R5],
    ].map(([name, vals]: any) => ({
      type: 'line',
      name: name + ' dyspnea',
      xAxisIndex: 3,
      yAxisIndex: 4,
      data: zipTimes(vals),
      showSymbol: true,
      clip: false,
      silent: true,
      z: 4,
      lineStyle: { color: colorOf[name], width: 3 },
      ...markerDefs[name],
    }));

    const graphics: any[] = [];
    NOTES.forEach((n) => {
      graphics.push({
        type: 'text',
        x: n.x,
        y: n.y,
        z: 60,
        silent: true,
        style: { text: n.text, fill: n.color, fontSize: 26, fontFamily: FONT, align: 'center', verticalAlign: 'middle' },
      });
    });
    ARROWS.forEach((a) => graphics.push(...arrowGraphic(a)));
    graphics.push({
      type: 'text', x: 1600, y: 280, rotation: Math.PI / 2, z: 60, silent: true,
      style: { text: 'RPE', fill: BLACK, fontSize: 25, fontFamily: FONT, align: 'center', verticalAlign: 'middle' },
    });
    graphics.push({
      type: 'text', x: 1583, y: 774, rotation: Math.PI / 2, z: 60, silent: true,
      style: { text: 'Dyspnea', fill: BLACK, fontSize: 25, fontFamily: FONT, align: 'center', verticalAlign: 'middle' },
    });

    const labelStyle = { show: true, fontSize: 25, color: BLACK, fontFamily: FONT };

    const option: any = {
      animation: false,
      backgroundColor: '#ffffff',
      textStyle: { fontFamily: FONT },
      grid: [
        { left: 82, width: 1419, top: 19.7, height: 853 },
        { left: 82, width: 1419, top: 20, height: 537 },
        { left: 82, width: 1419, top: 737.7, height: 135 },
      ],
      xAxis: [
        valueAxisBase({
          gridIndex: 0, min: 0, max: 60, interval: 5, position: 'bottom',
          name: 'Time (min)', nameLocation: 'middle', nameGap: 57,
          nameTextStyle: { fontSize: 23, fontWeight: 'bold', color: BLACK, fontFamily: FONT },
          axisLine: { show: true, onZero: false, lineStyle: tickStyle },
          axisTick: { show: true, inside: true, length: 7, lineStyle: tickStyle },
          minorTick: { show: true, splitNumber: 5, length: 6, lineStyle: tickStyle },
          axisLabel: { ...labelStyle, margin: 20 },
        }),
        valueAxisBase({
          gridIndex: 0, min: 0, max: 60, interval: 5, position: 'bottom',
          axisLine: { show: false, onZero: false },
          axisTick: { show: true, inside: false, length: 8, lineStyle: tickStyle },
          axisLabel: { show: false },
        }),
        valueAxisBase({ gridIndex: 1, min: 0, max: 60, show: false }),
        valueAxisBase({ gridIndex: 2, min: 0, max: 60, show: false }),
      ],
      yAxis: [
        valueAxisBase({
          gridIndex: 0, min: 3, max: 8, interval: 1, position: 'left',
          name: 'End-tidal CO2 (%)', nameLocation: 'middle', nameGap: 42, nameRotate: 90,
          nameTextStyle: { fontSize: 23, fontWeight: 'bold', color: BLACK, fontFamily: FONT },
          axisLine: { show: true, onZero: false, lineStyle: tickStyle },
          axisTick: { show: true, inside: true, length: 8, lineStyle: tickStyle },
          minorTick: { show: true, splitNumber: 4, length: 6, lineStyle: tickStyle },
          axisLabel: { ...labelStyle, margin: 24 },
        }),
        valueAxisBase({
          gridIndex: 0, min: 3, max: 8, interval: 1, position: 'left',
          axisLine: { show: false, onZero: false },
          axisTick: { show: true, inside: false, length: 8, lineStyle: tickStyle },
          axisLabel: { show: false },
        }),
        valueAxisBase({
          gridIndex: 1, min: 7, max: 19, interval: 1, position: 'right',
          axisLine: { show: true, onZero: false, lineStyle: tickStyle },
          axisTick: { show: true, inside: true, length: 8, lineStyle: tickStyle },
          axisLabel: { ...labelStyle, margin: 25 },
        }),
        valueAxisBase({
          gridIndex: 1, min: 7, max: 19, interval: 1, position: 'right',
          axisLine: { show: false, onZero: false },
          axisTick: { show: true, inside: false, length: 8, lineStyle: tickStyle },
          axisLabel: { show: false },
        }),
        valueAxisBase({
          gridIndex: 2, min: 0, max: 3, interval: 1, position: 'right',
          axisLine: { show: true, onZero: false, lineStyle: tickStyle },
          axisTick: { show: true, inside: true, length: 8, lineStyle: tickStyle },
          axisLabel: { ...labelStyle, margin: 25 },
        }),
        valueAxisBase({
          gridIndex: 2, min: 0, max: 3, interval: 1, position: 'right',
          axisLine: { show: false, onZero: false },
          axisTick: { show: true, inside: false, length: 8, lineStyle: tickStyle },
          axisLabel: { show: false },
        }),
      ],
      series: [...traceSeries, ...rpeSeries, ...dysSeries],
      graphic: { elements: graphics },
    };

    chart.setOption(option);
    return () => {
      chart.dispose();
    };
  }, []);

  return (
    <div
      ref={ref}
      style={{ position: 'absolute', left: 0, top: 0, width: 1625, height: 955, background: '#fff' }}
    />
  );
}
